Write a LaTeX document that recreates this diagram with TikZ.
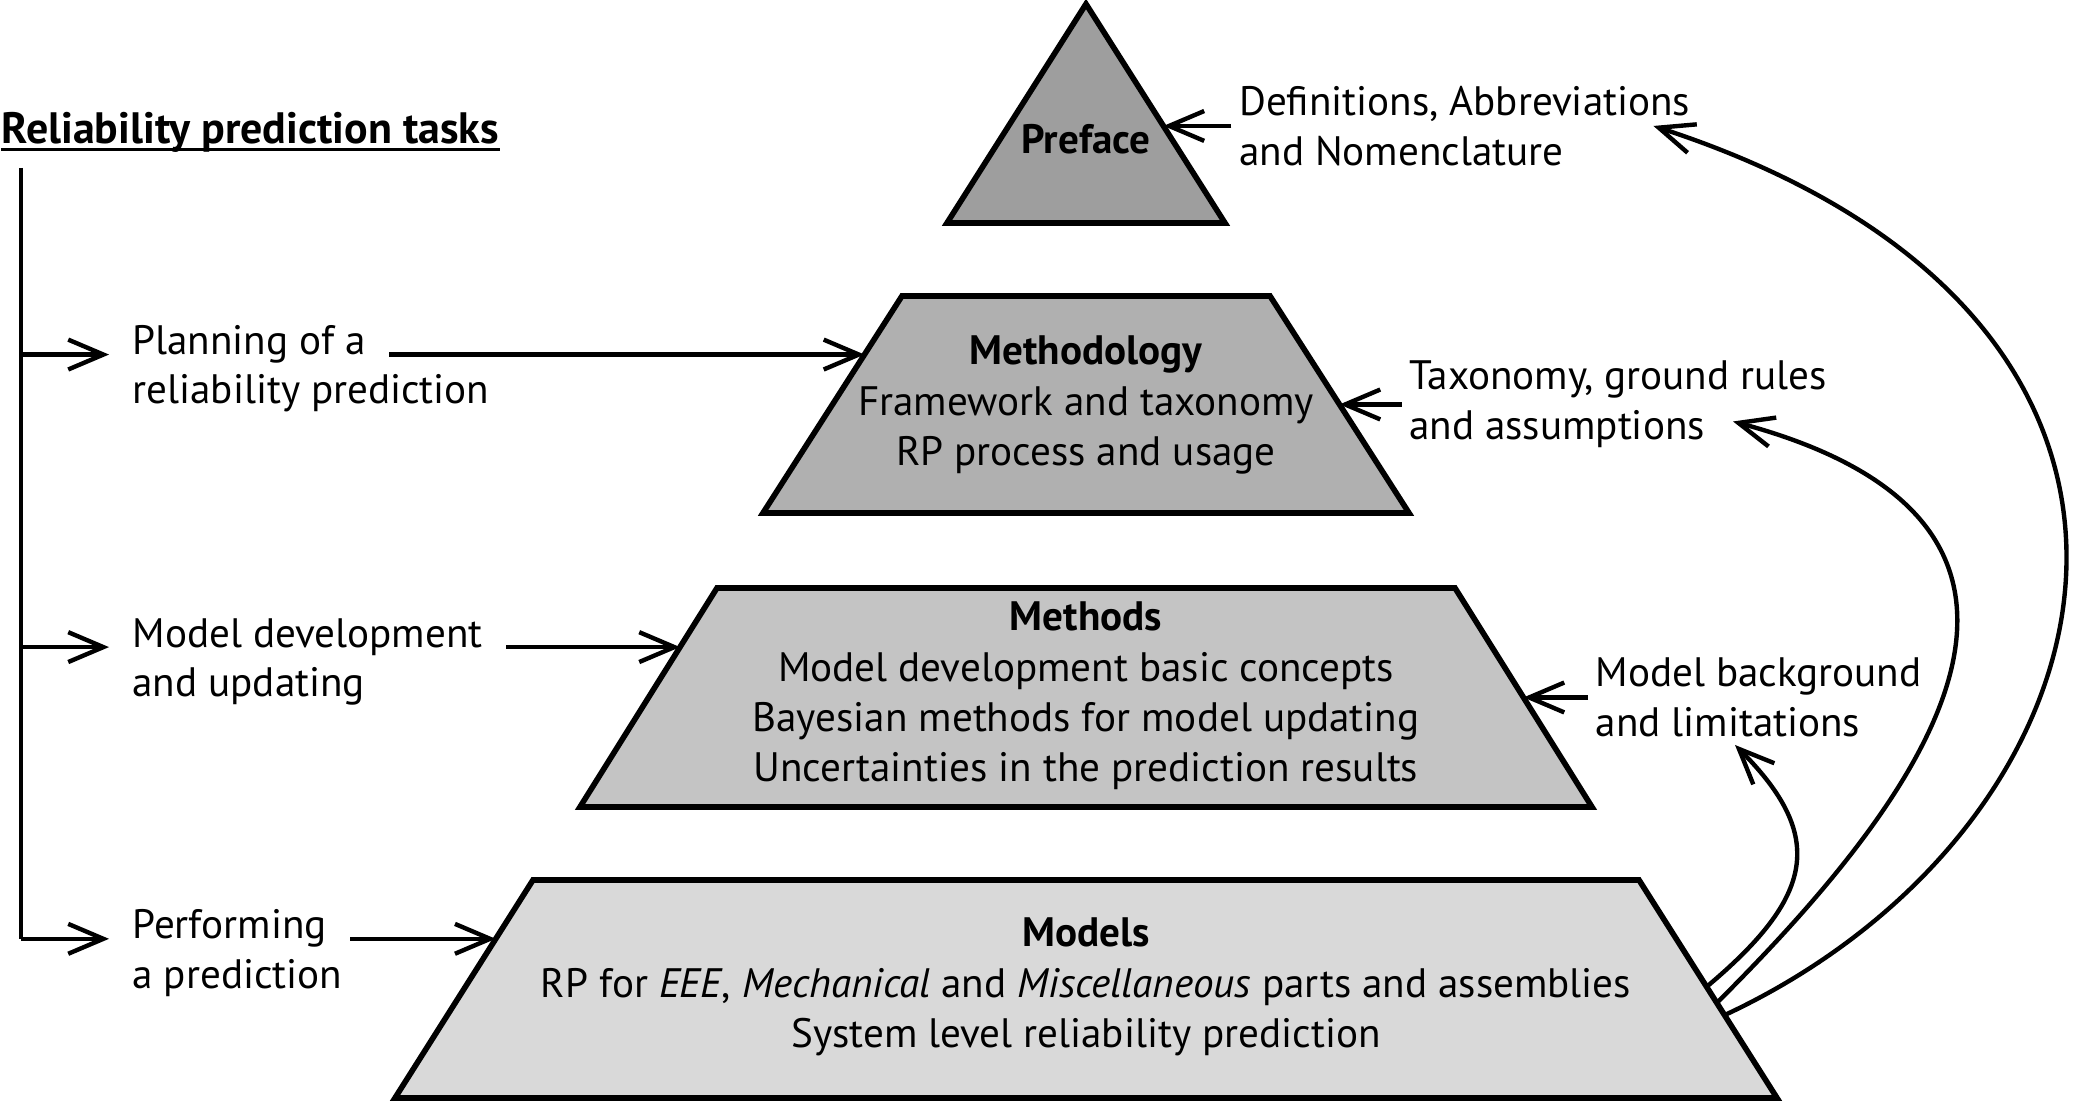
\documentclass[tikz,border=0pt]{standalone}
\usepackage{fontspec}
\setmainfont{PT Sans}
\usetikzlibrary{arrows.meta,calc,positioning}
\definecolor{preGray}{RGB}{158,158,158}
\definecolor{mthGray}{RGB}{176,176,176}
\definecolor{mtdGray}{RGB}{196,196,196}
\definecolor{modGray}{RGB}{217,217,217}

\begin{document}
\begin{tikzpicture}[
    font=\fontsize{11.7}{14.3}\selectfont,
    tier/.style={draw=black, line width=1.6pt},
    arr/.style={line width=1.25pt, -{Straight Barb[length=10pt, width=8.5pt]}},
    task/.style={anchor=base west, inner xsep=6.5pt, inner ysep=2pt},
    note/.style={align=left, inner sep=2pt},
    tiertext/.style={align=center}
  ]
  \useasboundingbox (0,0) rectangle (20.77,11.01);

  % Top of the pyramid
  \coordinate (preT) at (10.86,10.97);
  \coordinate (preBL) at (9.47,8.78);
  \coordinate (preBR) at (12.25,8.78);
  \filldraw[tier, fill=preGray] (preT) -- (preBR) -- (preBL) -- cycle;
  \coordinate (preR) at ($(preT)!0.557!(preBR)$);

  % The three lower tiers, with the points where the arrows meet them
  \foreach \tier/\yt/\wt/\yb/\wb/\col in {
      mth/8.05/1.84/5.88/3.23/mthGray,
      mtd/5.13/3.69/2.94/5.06/mtdGray,
      mod/2.21/5.53/0.03/6.91/modGray} {
    \coordinate (\tier-tl) at (10.86-\wt,\yt);
    \coordinate (\tier-tr) at (10.86+\wt,\yt);
    \coordinate (\tier-bl) at (10.86-\wb,\yb);
    \coordinate (\tier-br) at (10.86+\wb,\yb);
    \filldraw[tier, fill=\col] (\tier-tl) -- (\tier-tr) -- (\tier-br) -- (\tier-bl) -- cycle;
    \coordinate (\tier L) at ($(\tier-tl)!0.27!(\tier-bl)$);
    \coordinate (\tier R) at ($(\tier-tr)!0.5!(\tier-br)$);
  }
  \coordinate (modR1) at ($(mod-tr)!0.49!(mod-br)$);
  \coordinate (modR2) at ($(mod-tr)!0.564!(mod-br)$);
  \coordinate (modR3) at ($(mod-tr)!0.62!(mod-br)$);

  % Text of the tiers
  \node[tiertext] (pretxt) at (10.86,9.62) {\textbf{Preface}};
  \node[tiertext] (mthtxt) at (10.86,6.96)
    {\textbf{Methodology}\\Framework and taxonomy\\RP process and usage};
  \node[tiertext] (mtdtxt) at (10.86,4.05)
    {\textbf{Methods}\\Model development basic concepts\\Bayesian methods for model updating\\Uncertainties in the prediction results};
  \node[tiertext] (modtxt) at (10.86,1.14)
    {\textbf{Models}\\RP for \textit{EEE}, \textit{Mechanical} and \textit{Miscellaneous} parts and assemblies\\System level reliability prediction};

  % The tasks on the left
  \node[anchor=west, inner sep=0pt, font=\fontsize{12.5}{14}\selectfont] (title) at (0.01,9.69)
    {\textbf{Reliability prediction tasks}};
  \draw[line width=0.9pt] ([yshift=-1.8pt]title.base west) -- ([yshift=-1.8pt]title.base east);
  \coordinate (trunk) at (0.21,9.33);
  \draw[line width=1.25pt] (trunk) -- (modL -| trunk);
  \foreach \lab/\tgt/\one/\two in {
      plan/mthL/Planning of a/reliability prediction,
      dev/mtdL/Model development/and updating,
      perf/modL/Performing/a prediction} {
    \node[task] (\lab) at ($(\tgt -| trunk)+(0.88,0)$) {\one};
    \node[task] (\lab2) at ([yshift=-14pt]\lab.base west) {\two};
    \draw[arr] (\tgt -| trunk) -- (\lab.base west);
    \draw[arr] (\lab.base east) -- (\tgt);
  }

  % Notes on the right
  \node[note, right=0.68cm of preR] (defs) {Definitions, Abbreviations\\and Nomenclature};
  \node[note, right=0.62cm of mthR] (tax) {Taxonomy, ground rules\\and assumptions};
  \node[note, right=0.645cm of mtdR] (mbg) {Model background\\and limitations};
  \draw[arr] (defs) -- (preR);
  \draw[arr] (tax) -- (mthR);
  \draw[arr] (mbg) -- (mtdR);

  % Curved arrows from the models up to the notes
  \draw[arr] (modR1) .. controls +(40:1.4) and +(-45:1.3) .. ([xshift=1.47cm]mbg.south west);
  \draw[arr] (modR2) .. controls +(45:2.4) and +(-15:4.3) .. ([shift={(3.315,-0.17)}]tax.west);
  \draw[arr] (modR3) .. controls +(25:4.46) and +(-18:6.3) .. ([xshift=4.22cm]defs.west);
\end{tikzpicture}
\end{document}
